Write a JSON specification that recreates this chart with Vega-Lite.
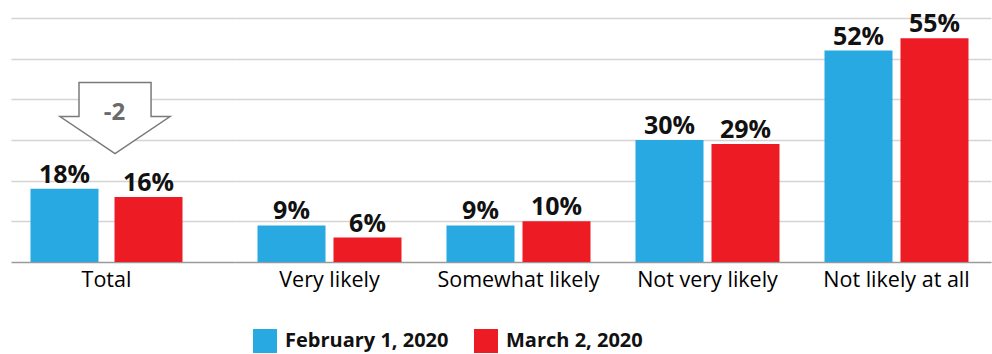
{
  "$schema": "https://vega.github.io/schema/vega-lite/v6.json",
  "padding": {"left": 11, "top": 12, "right": 1, "bottom": 0},
  "spacing": 0,
  "config": {"view": {"stroke": null}, "font": "Open Sans", "concat": {"spacing": 0}},
  "datasets": {
    "survey": [
      {"category": "Total", "date": "February 1, 2020", "value": 0.18},
      {"category": "Total", "date": "March 2, 2020", "value": 0.16},
      {"category": "Very likely", "date": "February 1, 2020", "value": 0.09},
      {"category": "Very likely", "date": "March 2, 2020", "value": 0.06},
      {"category": "Somewhat likely", "date": "February 1, 2020", "value": 0.09},
      {"category": "Somewhat likely", "date": "March 2, 2020", "value": 0.10},
      {"category": "Not very likely", "date": "February 1, 2020", "value": 0.30},
      {"category": "Not very likely", "date": "March 2, 2020", "value": 0.29},
      {"category": "Not likely at all", "date": "February 1, 2020", "value": 0.52},
      {"category": "Not likely at all", "date": "March 2, 2020", "value": 0.55}
    ],
    "note": [{"category": "Total", "change": "-2"}]
  },
  "resolve": {"scale": {"x": "independent", "xOffset": "independent", "y": "shared", "color": "shared"}},
  "hconcat": [
    {
      "width": 224,
      "height": 244,
      "encoding": {
        "x": {"field": "category", "type": "nominal", "title": null,
          "scale": {"paddingInner": 0, "paddingOuter": 0.0864, "align": 0},
          "axis": {"labelFontSize": 21.5, "labelColor": "#000", "labelFontWeight": 500, "ticks": false, "domainColor": "#9a9a9a", "domainWidth": 1.5, "labelPadding": 7, "labelAngle": 0}},
        "y": {"type": "quantitative", "title": null, "scale": {"domain": [0, 0.6]},
          "axis": {"labels": false, "ticks": false, "domain": false, "grid": true, "gridColor": "#d4d4d4", "gridWidth": 1.5, "values": [0.1, 0.2, 0.3, 0.4, 0.5, 0.6]}}
      },
      "layer": [
        {
          "data": {"name": "survey"},
          "transform": [{"filter": "datum.category === 'Total'"}],
          "mark": {"type": "bar"},
          "encoding": {
            "y": {"field": "value", "type": "quantitative"},
            "xOffset": {"field": "date", "type": "nominal", "scale": {"paddingInner": 0.1905, "paddingOuter": 0.232}},
            "color": {"field": "date", "type": "nominal", "title": null,
              "scale": {"domain": ["February 1, 2020", "March 2, 2020"], "range": ["#29a9e1", "#ed1c24"]},
              "legend": {"orient": "none", "legendX": 242, "legendY": 311, "direction": "horizontal", "symbolType": "square", "symbolSize": 576, "symbolStrokeWidth": 0, "symbolOpacity": 1, "labelFontSize": 20, "labelFontWeight": "bold", "labelColor": "#111", "labelLimit": 400, "columnPadding": 25, "labelOffset": 8}}
          }
        },
        {
          "data": {"name": "survey"},
          "transform": [{"filter": "datum.category === 'Total'"}],
          "mark": {"type": "text", "baseline": "alphabetic", "dy": -6, "fontSize": 25, "fontWeight": "bold", "fill": "#111"},
          "encoding": {
            "y": {"field": "value", "type": "quantitative"},
            "xOffset": {"field": "date", "type": "nominal", "scale": {"paddingInner": 0.1905, "paddingOuter": 0.232}},
            "text": {"field": "value", "type": "quantitative", "format": ".0%"}
          }
        },
        {
          "data": {"name": "note"},
          "mark": {"type": "point", "filled": true, "fill": "white", "stroke": "#7a7a7a", "strokeWidth": 1.5, "opacity": 1, "size": 12100,
            "shape": "M -0.5 -0.645 L 0.81 -0.645 L 0.81 -0.027 L 1.155 -0.027 L 0.155 0.645 L -0.845 -0.027 L -0.5 -0.027 Z"},
          "encoding": {
            "y": {"datum": 0.354}
          }
        },
        {
          "data": {"name": "note"},
          "mark": {"type": "text", "dx": 8, "baseline": "middle", "fontSize": 24, "fontWeight": "bold", "fill": "#6b6b6b"},
          "encoding": {
            "y": {"datum": 0.367},
            "text": {"field": "change"}
          }
        }
      ]
    },
    {
      "width": 756,
      "height": 244,
      "data": {"name": "survey"},
      "transform": [{"filter": "datum.category !== 'Total'"}],
      "encoding": {
        "x": {"field": "category", "type": "nominal", "title": null,
          "sort": ["Very likely", "Somewhat likely", "Not very likely", "Not likely at all"],
          "scale": {"paddingInner": 0, "paddingOuter": 0},
          "axis": {"labelFontSize": 21.5, "labelColor": "#000", "labelFontWeight": 500, "ticks": false, "domainColor": "#9a9a9a", "domainWidth": 1.5, "labelPadding": 7, "labelAngle": 0}},
        "y": {"field": "value", "type": "quantitative", "title": null, "scale": {"domain": [0, 0.6]},
          "axis": {"labels": false, "ticks": false, "domain": false, "grid": true, "gridColor": "#d4d4d4", "gridWidth": 1.5, "values": [0.1, 0.2, 0.3, 0.4, 0.5, 0.6]}},
        "xOffset": {"field": "date", "type": "nominal", "scale": {"paddingInner": 0.105, "paddingOuter": 0.296}}
      },
      "layer": [
        {
          "mark": {"type": "bar"},
          "encoding": {
            "color": {"field": "date", "type": "nominal", "title": null}
          }
        },
        {
          "mark": {"type": "text", "baseline": "alphabetic", "dy": -6, "fontSize": 25, "fontWeight": "bold", "fill": "#111"},
          "encoding": {
            "text": {"field": "value", "type": "quantitative", "format": ".0%"}
          }
        }
      ]
    }
  ]
}
